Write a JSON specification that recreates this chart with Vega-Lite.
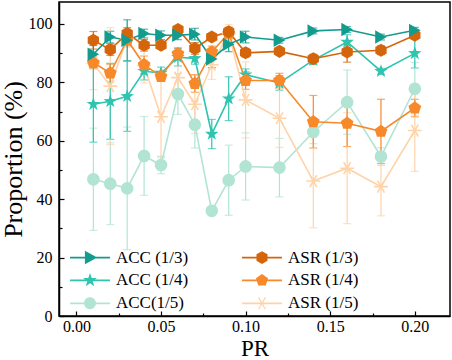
{
  "$schema": "https://vega.github.io/schema/vega-lite/v6.json",
  "width": 391,
  "height": 314,
  "autosize": {"type": "none"},
  "padding": {"left": 59, "top": 2, "right": 2, "bottom": 44},
  "background": "white",
  "config": {
    "view": {"stroke": "black", "strokeWidth": 1.5},
    "font": "Liberation Serif",
    "axis": {
      "grid": false,
      "domainColor": "black",
      "domainWidth": 1.5,
      "tickColor": "black",
      "tickWidth": 1.2,
      "tickSize": -5,
      "labelFont": "Liberation Serif",
      "labelFontSize": 16,
      "labelColor": "black",
      "titleFont": "Liberation Serif",
      "titleFontSize": 26,
      "titleFontWeight": "normal",
      "titleColor": "black"
    },
    "legend": {
      "labelFont": "Liberation Serif",
      "labelFontSize": 17,
      "labelColor": "black"
    }
  },
  "data": {
    "values": [
      {"pr": 0.01, "s": "ACC(1/5)", "v": 46.8, "e": 17.5},
      {"pr": 0.02, "s": "ACC(1/5)", "v": 45.3, "e": 14},
      {"pr": 0.03, "s": "ACC(1/5)", "v": 43.7, "e": 21},
      {"pr": 0.04, "s": "ACC(1/5)", "v": 54.8, "e": 13.5},
      {"pr": 0.05, "s": "ACC(1/5)", "v": 51.7, "e": 3},
      {"pr": 0.06, "s": "ACC(1/5)", "v": 76.0, "e": 7},
      {"pr": 0.07, "s": "ACC(1/5)", "v": 65.5, "e": 8},
      {"pr": 0.08, "s": "ACC(1/5)", "v": 36.0, "e": 1},
      {"pr": 0.09, "s": "ACC(1/5)", "v": 46.5, "e": 12},
      {"pr": 0.10, "s": "ACC(1/5)", "v": 51.2, "e": 11.5},
      {"pr": 0.12, "s": "ACC(1/5)", "v": 50.8, "e": 10},
      {"pr": 0.14, "s": "ACC(1/5)", "v": 63.0, "e": 4},
      {"pr": 0.16, "s": "ACC(1/5)", "v": 73.2, "e": 11},
      {"pr": 0.18, "s": "ACC(1/5)", "v": 54.6, "e": 3},
      {"pr": 0.20, "s": "ACC(1/5)", "v": 77.8, "e": 9},

      {"pr": 0.01, "s": "ASR (1/5)", "v": 86.5, "e": 9},
      {"pr": 0.02, "s": "ASR (1/5)", "v": 78.7, "e": 20},
      {"pr": 0.03, "s": "ASR (1/5)", "v": 95.0, "e": 3},
      {"pr": 0.04, "s": "ASR (1/5)", "v": 85.8, "e": 6},
      {"pr": 0.05, "s": "ASR (1/5)", "v": 68.2, "e": 14},
      {"pr": 0.06, "s": "ASR (1/5)", "v": 81.6, "e": 6},
      {"pr": 0.07, "s": "ASR (1/5)", "v": 72.5, "e": 10},
      {"pr": 0.08, "s": "ASR (1/5)", "v": 86.0, "e": 5},
      {"pr": 0.09, "s": "ASR (1/5)", "v": 96.8, "e": 3},
      {"pr": 0.10, "s": "ASR (1/5)", "v": 74.0, "e": 13},
      {"pr": 0.12, "s": "ASR (1/5)", "v": 67.7, "e": 10},
      {"pr": 0.14, "s": "ASR (1/5)", "v": 46.2, "e": 16},
      {"pr": 0.16, "s": "ASR (1/5)", "v": 50.6, "e": 19},
      {"pr": 0.18, "s": "ASR (1/5)", "v": 44.3, "e": 10},
      {"pr": 0.20, "s": "ASR (1/5)", "v": 63.5, "e": 14},

      {"pr": 0.01, "s": "ACC (1/4)", "v": 72.5, "e": 13},
      {"pr": 0.02, "s": "ACC (1/4)", "v": 73.5, "e": 13},
      {"pr": 0.03, "s": "ACC (1/4)", "v": 75.2, "e": 12},
      {"pr": 0.04, "s": "ACC (1/4)", "v": 83.8, "e": 3},
      {"pr": 0.05, "s": "ACC (1/4)", "v": 83.2, "e": 2},
      {"pr": 0.06, "s": "ACC (1/4)", "v": 88.6, "e": 3},
      {"pr": 0.07, "s": "ACC (1/4)", "v": 88.2, "e": 2},
      {"pr": 0.08, "s": "ACC (1/4)", "v": 62.3, "e": 5},
      {"pr": 0.09, "s": "ACC (1/4)", "v": 74.4, "e": 7.5},
      {"pr": 0.10, "s": "ACC (1/4)", "v": 82.6, "e": 2},
      {"pr": 0.12, "s": "ACC (1/4)", "v": 79.8, "e": 2.5},
      {"pr": 0.14, "s": "ACC (1/4)", "v": 87.6, "e": 1.5},
      {"pr": 0.16, "s": "ACC (1/4)", "v": 93.8, "e": 2.5},
      {"pr": 0.18, "s": "ACC (1/4)", "v": 83.8, "e": 1},
      {"pr": 0.20, "s": "ACC (1/4)", "v": 89.9, "e": 5},

      {"pr": 0.01, "s": "ASR (1/4)", "v": 86.7, "e": 2},
      {"pr": 0.02, "s": "ASR (1/4)", "v": 83.2, "e": 3},
      {"pr": 0.03, "s": "ASR (1/4)", "v": 94.5, "e": 2},
      {"pr": 0.04, "s": "ASR (1/4)", "v": 86.0, "e": 3},
      {"pr": 0.05, "s": "ASR (1/4)", "v": 82.0, "e": 1.5},
      {"pr": 0.06, "s": "ASR (1/4)", "v": 89.8, "e": 2},
      {"pr": 0.07, "s": "ASR (1/4)", "v": 79.6, "e": 3},
      {"pr": 0.08, "s": "ASR (1/4)", "v": 90.4, "e": 2},
      {"pr": 0.09, "s": "ASR (1/4)", "v": 96.8, "e": 2},
      {"pr": 0.10, "s": "ASR (1/4)", "v": 80.6, "e": 3},
      {"pr": 0.12, "s": "ASR (1/4)", "v": 80.6, "e": 2.5},
      {"pr": 0.14, "s": "ASR (1/4)", "v": 66.5, "e": 9},
      {"pr": 0.16, "s": "ASR (1/4)", "v": 66.0, "e": 8},
      {"pr": 0.18, "s": "ASR (1/4)", "v": 63.2, "e": 11},
      {"pr": 0.20, "s": "ASR (1/4)", "v": 71.2, "e": 3},

      {"pr": 0.01, "s": "ASR (1/3)", "v": 94.4, "e": 3},
      {"pr": 0.02, "s": "ASR (1/3)", "v": 91.2, "e": 2},
      {"pr": 0.03, "s": "ASR (1/3)", "v": 96.7, "e": 2},
      {"pr": 0.04, "s": "ASR (1/3)", "v": 92.7, "e": 2},
      {"pr": 0.05, "s": "ASR (1/3)", "v": 92.7, "e": 1},
      {"pr": 0.06, "s": "ASR (1/3)", "v": 98.1, "e": 1},
      {"pr": 0.07, "s": "ASR (1/3)", "v": 91.6, "e": 2},
      {"pr": 0.08, "s": "ASR (1/3)", "v": 95.5, "e": 1},
      {"pr": 0.09, "s": "ASR (1/3)", "v": 97.3, "e": 1.5},
      {"pr": 0.10, "s": "ASR (1/3)", "v": 90.1, "e": 1.5},
      {"pr": 0.12, "s": "ASR (1/3)", "v": 90.6, "e": 1},
      {"pr": 0.14, "s": "ASR (1/3)", "v": 88.1, "e": 1.5},
      {"pr": 0.16, "s": "ASR (1/3)", "v": 90.4, "e": 3.5},
      {"pr": 0.18, "s": "ASR (1/3)", "v": 91.0, "e": 1.5},
      {"pr": 0.20, "s": "ASR (1/3)", "v": 96.1, "e": 1},

      {"pr": 0.01, "s": "ACC (1/3)", "v": 89.6, "e": 3},
      {"pr": 0.02, "s": "ACC (1/3)", "v": 95.5, "e": 2},
      {"pr": 0.03, "s": "ACC (1/3)", "v": 94.4, "e": 7},
      {"pr": 0.04, "s": "ACC (1/3)", "v": 96.7, "e": 1.5},
      {"pr": 0.05, "s": "ACC (1/3)", "v": 96.1, "e": 1.5},
      {"pr": 0.06, "s": "ACC (1/3)", "v": 96.1, "e": 1.5},
      {"pr": 0.07, "s": "ACC (1/3)", "v": 96.5, "e": 2},
      {"pr": 0.08, "s": "ACC (1/3)", "v": 88.0, "e": 3},
      {"pr": 0.09, "s": "ACC (1/3)", "v": 93.0, "e": 2.5},
      {"pr": 0.10, "s": "ACC (1/3)", "v": 95.5, "e": 2},
      {"pr": 0.12, "s": "ACC (1/3)", "v": 94.4, "e": 1},
      {"pr": 0.14, "s": "ACC (1/3)", "v": 97.6, "e": 1},
      {"pr": 0.16, "s": "ACC (1/3)", "v": 98.1, "e": 1},
      {"pr": 0.18, "s": "ACC (1/3)", "v": 95.5, "e": 1},
      {"pr": 0.20, "s": "ACC (1/3)", "v": 97.8, "e": 1}
    ]
  },
  "layer": [
    {
      "encoding": {
        "x": {
          "field": "pr",
          "type": "quantitative",
          "scale": {"domain": [-0.0103, 0.2208], "nice": false, "zero": false},
          "axis": {"title": "PR", "orient": "bottom", "values": [0, 0.05, 0.1, 0.15, 0.2], "format": ".2f", "labelPadding": 7, "titleFontSize": 23, "titleBaseline": "alphabetic", "titleY": 39}
        },
        "y": {
          "field": "v",
          "type": "quantitative",
          "scale": {"domain": [0, 107.5], "nice": false},
          "axis": {"title": "Proportion (%)", "orient": "left", "values": [0, 20, 40, 60, 80, 100], "labelPadding": 12, "titleBaseline": "alphabetic", "titleX": -38}
        },
        "color": {
          "field": "s",
          "type": "nominal",
          "scale": {
            "domain": ["ACC (1/3)", "ACC (1/4)", "ACC(1/5)", "ASR (1/3)", "ASR (1/4)", "ASR (1/5)"],
            "range": ["#139c8d", "#2ec4b0", "#b2e4d4", "#d4650b", "#f7892a", "#ffd3a8"]
          },
          "legend": {
            "title": null,
            "orient": "none",
            "legendX": 22.5,
            "legendY": 246.8,
            "columns": 2,
            "columnPadding": 53,
            "rowPadding": 5,
            "symbolSize": 289,
            "symbolStrokeWidth": 0,
            "labelOffset": 17.5,
            "padding": 0,
            "symbolOpacity": 1
          }
        }
      },
      "layer": [
        {
          "mark": {"type": "errorbar", "ticks": {"size": 8}, "thickness": 1.2},
          "encoding": {
            "yError": {"field": "e"}
          }
        },
        {
          "mark": {"type": "line", "strokeWidth": 1.6}
        },
        {
          "transform": [{"filter": "datum.s === 'ACC(1/5)'"}],
          "mark": {"type": "point", "filled": true, "size": 160, "opacity": 1, "shape": "circle"}
        },
        {
          "transform": [{"filter": "datum.s === 'ASR (1/5)'"}],
          "mark": {"type": "point", "filled": true, "size": 190, "opacity": 1, "stroke": "#ffd3a8", "strokeWidth": 1.6, "shape": "M-1,0L1,0M-0.5,-0.866L0.5,0.866M-0.5,0.866L0.5,-0.866"}
        },
        {
          "transform": [{"filter": "datum.s === 'ACC (1/4)'"}],
          "mark": {"type": "point", "filled": true, "size": 200, "opacity": 1, "shape": "M0,-1L0.235,-0.324L0.951,-0.309L0.38,0.124L0.588,0.809L0,0.4L-0.588,0.809L-0.38,0.124L-0.951,-0.309L-0.235,-0.324Z"}
        },
        {
          "transform": [{"filter": "datum.s === 'ASR (1/4)'"}],
          "mark": {"type": "point", "filled": true, "size": 180, "opacity": 1, "shape": "M0,-1L0.951,-0.309L0.588,0.809L-0.588,0.809L-0.951,-0.309Z"}
        },
        {
          "transform": [{"filter": "datum.s === 'ASR (1/3)'"}],
          "mark": {"type": "point", "filled": true, "size": 170, "opacity": 1, "shape": "M0,-1L0.866,-0.5L0.866,0.5L0,1L-0.866,0.5L-0.866,-0.5Z"}
        },
        {
          "transform": [{"filter": "datum.s === 'ACC (1/3)'"}],
          "mark": {"type": "point", "filled": true, "size": 180, "opacity": 1, "shape": "triangle-right"}
        },
        {
          "transform": [{"filter": "datum.v < 0"}],
          "mark": {"type": "point", "filled": true, "opacity": 1},
          "encoding": {
            "shape": {
              "field": "s",
              "type": "nominal",
              "scale": {
                "domain": ["ACC (1/3)", "ACC (1/4)", "ACC(1/5)", "ASR (1/3)", "ASR (1/4)", "ASR (1/5)"],
                "range": [
                  "M-2.35,-0.1H2.35V0.1H-2.35ZM-0.6,-0.8L0.85,0L-0.6,0.8Z",
                  "M-2.35,-0.1H2.35V0.1H-2.35ZM0,-0.85L0.2,-0.275L0.808,-0.263L0.323,0.105L0.5,0.688L0,0.34L-0.5,0.688L-0.323,0.105L-0.808,-0.263L-0.2,-0.275Z",
                  "M-2.35,-0.1H2.35V0.1H-2.35ZM0.7,0A0.7,0.7 0 1,1 -0.7,0A0.7,0.7 0 1,1 0.7,0Z",
                  "M-2.35,-0.1H2.35V0.1H-2.35ZM0,-0.75L0.65,-0.375L0.65,0.375L0,0.75L-0.65,0.375L-0.65,-0.375Z",
                  "M-2.35,-0.1H2.35V0.1H-2.35ZM0,-0.75L0.713,-0.232L0.441,0.607L-0.441,0.607L-0.713,-0.232Z",
                  "M-2.35,-0.1H2.35V0.1H-2.35ZM0.339,0.728L-0.461,-0.658L-0.339,-0.728L0.461,0.658ZM0.461,-0.658L-0.339,0.728L-0.461,0.658L0.339,-0.728Z"
                ]
              },
              "legend": {"title": null}
            }
          }
        }
      ]
    },
    {
      "transform": [{"filter": "datum.v < 0"}],
      "mark": {"type": "point"},
      "encoding": {
        "x": {
          "field": "pr",
          "type": "quantitative",
          "scale": {"domain": [-0.0103, 0.2208], "nice": false, "zero": false},
          "axis": {"orient": "bottom", "title": null, "values": [0.025, 0.075, 0.125, 0.175], "labels": false, "domain": false, "tickSize": -3}
        },
        "y": {
          "field": "v",
          "type": "quantitative",
          "scale": {"domain": [0, 107.5], "nice": false},
          "axis": {"orient": "left", "title": null, "values": [10, 30, 50, 70, 90], "labels": false, "domain": false, "tickSize": -3}
        }
      }
    }
  ],
  "resolve": {"axis": {"x": "independent", "y": "independent"}}
}
